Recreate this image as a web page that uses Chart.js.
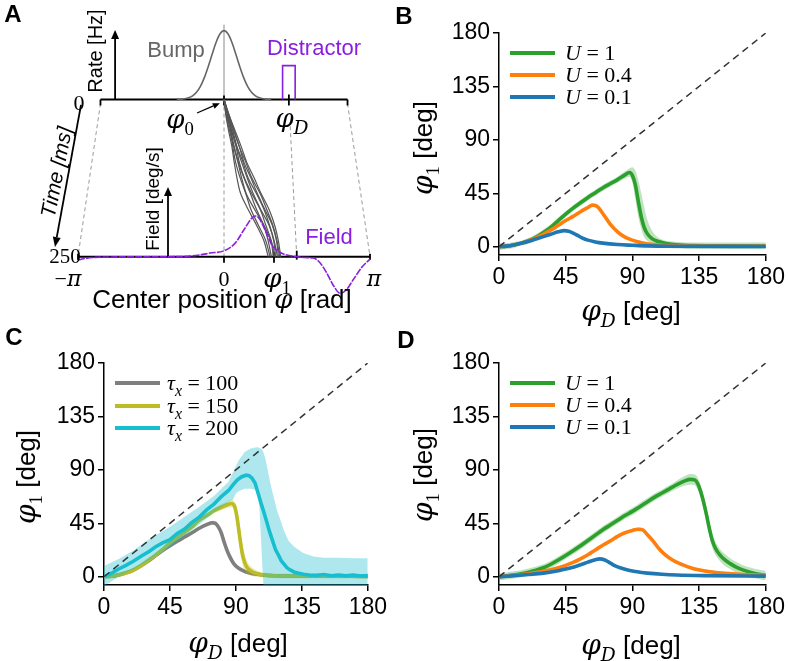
<!DOCTYPE html>
<html><head><meta charset="utf-8">
<script src="https://cdn.jsdelivr.net/npm/chart.js@4.4.1/dist/chart.umd.min.js"></script>
<style>
html,body{margin:0;padding:0;background:#fff;}
#fig{position:relative;width:788px;height:661px;overflow:hidden;background:#fff;font-family:'Liberation Sans',Arial,sans-serif;color:#000;}
canvas{position:absolute;}
.lab{position:absolute;white-space:nowrap;transform:translate(-50%,-50%);line-height:1;}
.rot{transform:translate(-50%,-50%) rotate(-90deg);}
.m{font-family:'DejaVu Serif','Liberation Serif',serif;font-style:italic;}
.r{font-family:'Liberation Serif',serif;}
.sub{font-size:0.72em;position:relative;top:0.38em;}
.bold{font-weight:bold;font-size:24px;}
.leg{position:absolute;height:4px;width:45px;}
.legt{position:absolute;white-space:nowrap;transform:translateY(-50%);font-family:'Liberation Serif',serif;font-size:22px;line-height:1;}
</style></head><body>
<div id="fig">
<canvas id="cA" width="390" height="320" style="left:0;top:0"></canvas>
<canvas id="cB" width="398" height="330" style="left:390px;top:0"></canvas>
<canvas id="cC" width="390" height="331" style="left:0;top:330px"></canvas>
<canvas id="cD" width="398" height="331" style="left:390px;top:330px"></canvas>

<!-- panel letters -->
<div class="lab bold" style="left:13px;top:14px">A</div>
<div class="lab bold" style="left:404px;top:16px">B</div>
<div class="lab bold" style="left:14px;top:337px">C</div>
<div class="lab bold" style="left:406px;top:340px">D</div>

<!-- panel A labels -->
<div class="lab rot" style="left:95px;top:51px;font-size:20px">Rate [Hz]</div>
<div class="lab" style="left:176px;top:50px;font-size:22px;color:#666">Bump</div>
<div class="lab" style="left:314px;top:48px;font-size:22px;color:#8a1ee0">Distractor</div>
<div class="lab r" style="left:79px;top:103px;font-size:22px">0</div>
<div class="lab" style="left:180px;top:119px;font-size:26px"><span class="m">φ</span><span class="sub r">0</span></div>
<div class="lab" style="left:292px;top:118px;font-size:26px"><span class="m">φ</span><span class="sub m">D</span></div>
<div class="lab" style="left:56px;top:172px;font-size:21px;font-style:italic;transform:translate(-50%,-50%) rotate(-79deg)">Time [ms]</div>
<div class="lab rot" style="left:152px;top:199px;font-size:19px">Field [deg/s]</div>
<div class="lab" style="left:329px;top:237px;font-size:22px;color:#8a1ee0">Field</div>
<div class="lab r" style="left:65px;top:256px;font-size:21px">250</div>
<div class="lab" style="left:68px;top:279px;font-size:22px"><span class="r">−</span><span class="m">π</span></div>
<div class="lab r" style="left:224px;top:279px;font-size:22px">0</div>
<div class="lab" style="left:277px;top:278px;font-size:26px"><span class="m">φ</span><span class="sub r">1</span></div>
<div class="lab m" style="left:374px;top:279px;font-size:22px">π</div>
<div class="lab" style="left:222px;top:299px;font-size:26px">Center position <span class="m">φ</span> [rad]</div>

<!-- axis titles -->
<div class="lab rot" style="left:423px;top:148px;font-size:26px"><span class="m" style="font-size:28px">φ</span><span class="sub r">1</span> [deg]</div>
<div class="lab" style="left:631px;top:311px;font-size:26px"><span class="m" style="font-size:28px">φ</span><span class="sub m">D</span> [deg]</div>
<div class="lab rot" style="left:26px;top:477px;font-size:26px"><span class="m" style="font-size:28px">φ</span><span class="sub r">1</span> [deg]</div>
<div class="lab" style="left:238px;top:643px;font-size:26px"><span class="m" style="font-size:28px">φ</span><span class="sub m">D</span> [deg]</div>
<div class="lab rot" style="left:423px;top:475px;font-size:26px"><span class="m" style="font-size:28px">φ</span><span class="sub r">1</span> [deg]</div>
<div class="lab" style="left:631px;top:645px;font-size:26px"><span class="m" style="font-size:28px">φ</span><span class="sub m">D</span> [deg]</div>

<!-- legends -->
<div class="leg" style="left:510px;top:51px;background:#2ca02c"></div>
<div class="legt" style="left:565px;top:53px"><i>U</i> = 1</div>
<div class="leg" style="left:510px;top:73px;background:#ff7f0e"></div>
<div class="legt" style="left:565px;top:75px"><i>U</i> = 0.4</div>
<div class="leg" style="left:510px;top:95px;background:#1f77b4"></div>
<div class="legt" style="left:565px;top:97px"><i>U</i> = 0.1</div>

<div class="leg" style="left:115px;top:381px;background:#7f7f7f"></div>
<div class="legt" style="left:167px;top:383px"><i>τ</i><span class="sub"><i>x</i></span> = 100</div>
<div class="leg" style="left:115px;top:404px;background:#bcbd22"></div>
<div class="legt" style="left:167px;top:406px"><i>τ</i><span class="sub"><i>x</i></span> = 150</div>
<div class="leg" style="left:115px;top:426px;background:#17becf"></div>
<div class="legt" style="left:167px;top:428px"><i>τ</i><span class="sub"><i>x</i></span> = 200</div>

<div class="leg" style="left:510px;top:381px;background:#2ca02c"></div>
<div class="legt" style="left:565px;top:383px"><i>U</i> = 1</div>
<div class="leg" style="left:510px;top:403px;background:#ff7f0e"></div>
<div class="legt" style="left:565px;top:405px"><i>U</i> = 0.4</div>
<div class="leg" style="left:510px;top:425px;background:#1f77b4"></div>
<div class="legt" style="left:565px;top:427px"><i>U</i> = 0.1</div>
</div>

<script>
// ---------------- data ----------------
const TICKS_DEG = [0, 45, 90, 135, 180];

// Panel B
const B_U1_x  = [0,5,10,15,20,25,30,35,40,45,50,55,60,65,70,75,80,85,88,90,92,94,96,98,100,103,106,110,115,122,130,140,160,180];
const B_U1_y  = [0,0.5,1.5,3,5,8,12,16.5,22,27.5,32.5,37,41.5,45.5,49.5,53,56.5,60.5,62.5,60,52,38,25,16,11,7,5,3.5,2.2,1.4,1,0.7,0.5,0.5];
const B_U1_hi = [3,3,4,5,7.5,10.5,14.5,19,24.5,30,35,39.5,44,48,52,55.5,59,63.5,66,67,64,56,45,33,23,14,9,6,4.5,4,3.5,3.5,3.5,3.5];
const B_U1_lo = [-3,-2,-1,1,2.5,5.5,9.5,14,19.5,25,30,34.5,39,43,47,50.5,54,57.5,59,54,40,25,15,8,5,3,1.5,0.5,-1,-1.5,-2,-2,-2,-2];

const B_U04_x = [0,5,10,15,20,25,30,35,40,45,50,55,60,63,65,67,70,75,80,85,90,95,100,110,120,140,180];
const B_U04_y = [0,0.5,1.5,3,5,7.5,10.5,14,18,22,25.5,29.5,33,35,34.8,33,28,19,12.5,8,5.5,3.8,2.5,1.2,0.7,0.5,0.4];
const B_U04_e = [1,1,1,1,1,1,1,1.2,1.2,1.2,1.2,1.2,1.3,1.3,1.3,1.3,1.3,1.3,1.2,1.2,1.1,1,1,1,1,1,1];

const B_U01_x = [0,5,10,15,20,25,30,35,40,44,47,50,53,56,60,65,70,80,90,100,120,180];
const B_U01_y = [0,0.5,1.5,2.8,4.5,6.5,8.5,10.5,12.5,13.5,13,11.5,9.5,7.5,5.5,4,3,1.8,1.2,0.7,0.4,0.2];
const B_U01_e = [0.8,0.8,0.8,0.9,0.9,1,1,1,1,1,1,1,1,1,1,0.9,0.9,0.8,0.8,0.8,0.8,0.8];

// Panel C
const C_T100_x = [0,5,10,15,20,25,30,35,40,45,50,55,60,65,70,74,76,78,80,82,84,86,88,90,93,97,100,105,110,120,140,180];
const C_T100_y = [0,0.5,1.5,3.2,5.6,9,13,17.5,22,26,29.8,33.4,37,40.8,43.8,45.4,45,42,37,29,22,16.5,12,9,6.3,4,3,2,1.2,0.7,0.4,0.3];
const C_T100_e = [1.5,1.5,1.5,1.5,1.5,1.5,1.5,1.5,1.5,1.5,1.5,1.5,1.5,1.5,1.6,1.8,2,2.5,3,3.5,3.5,3,2.5,2,1.8,1.5,1.5,1.5,1.5,1.5,1.5,1.5];

const C_T150_x = [0,5,10,15,20,25,30,35,40,45,50,55,60,65,70,75,80,85,87,89,90,91,92,93,94,95,97,100,105,110,120,180];
const C_T150_y = [0,0.5,1.5,3.2,5.6,9.2,13.5,18,23,28.5,33,37.5,42,47.7,51.5,55.5,58.5,61,61.7,59.5,55,48,39,30,22,16,9,5,2.3,1.3,0.6,0.3];
const C_T150_e = [2,2,2,2,2,2,2,2,2,2,2,2,2,2,2,2.2,2.5,3,3.5,4,6,8,10,10,9,8,6,4,2.5,2,2,2];

const C_T200_x = [0,3,6,10,15,20,25,31,35,40,45,50,55,60,65,70,75,80,85,88,91,94,97,99,101,103,105,107,109,111,113,115,117,119,121,123,125,127,130,133,136,140,145,150,155,160,165,170,175,180];
const C_T200_y = [0,1.5,3.5,6.5,9.5,13,17,21.5,25,28.5,31.2,36.4,40.1,45.8,50.2,56.3,61.2,67.4,72.6,77.3,81.6,84.2,85.5,85.1,83,79.2,71,62.4,54.6,46.3,37.7,30.4,22.8,18.3,13.2,10.4,7.3,5.7,3.8,2.9,2.1,1.4,1.2,1.8,0.8,1.4,0.7,1.3,0.6,0.9];
const C_T200_bx = [0,5,10,20,30,45,65,75,85,88,90,92,96,100,104,105,106,107,108,109,110,112,114,116,118,120,123,126,130,136,143,150,160,170,180];
const C_T200_hi = [9,12,15,22,31,42,59,68,80,88,93,98,105,108,109,109,108.5,108,107,104,100,88,76,66,56,49,38,30,25,20,17,16,16,15.5,15.5];
const C_T200_lo = [-8,-4,0,6,13,25,44,54,63,65,70,72,74,74,73,72,60,35,10,-12,-12,-12,-12,-12,-12,-12,-12,-12,-12,-12,-12,-12,-12,-12,-12];

// Panel D
const D_U1_x  = [0,5,10,15,20,25,30,35,40,45,50,55,60,65,70,75,80,85,90,95,100,105,110,115,120,125,129,132,134,136,138,140,142,144,146,149,152,156,160,165,170,175,180];
const D_U1_y  = [0,0.6,1.5,2.5,3.8,5.5,7.5,10.5,14,17.8,21.8,26,30.5,35,39.5,43.5,47.5,51.5,55,59,63,67,70.5,74,77.5,80.5,82,81.5,78.5,72,63,52,40,30,24,18.3,14.5,11,8,5.5,3.5,2,1];
const D_U1_e  = [3,3,3,3,3,3,3,3,3,3,3,3,3,3,3,3,3,3,3,3,3,3,3,3,3.5,4,4.5,4.5,5,5.5,6,6,6,6,5.5,5,5,4.5,4.5,4,4,4,4];

const D_U04_x = [0,10,20,30,40,45,50,55,60,65,70,75,80,85,90,94,97,100,104,108,112,117,122,127,132,138,145,155,165,180];
const D_U04_y = [0,1,2.5,4.5,7.5,9.5,12,15,18.5,22.5,26.5,30,34,37,39,40,39.5,35.5,30,23.5,18.5,14,11,8.5,6.5,5,3.8,2.6,1.8,1.2];
const D_U04_e = [1,1,1,1,1,1.1,1.2,1.2,1.3,1.3,1.3,1.3,1.3,1.3,1.4,1.4,1.4,1.4,1.4,1.4,1.3,1.3,1.3,1.2,1.2,1.2,1.1,1,1,1];

const D_U01_x = [0,10,20,30,40,45,50,55,60,65,68,71,74,77,80,85,90,95,100,110,120,140,180];
const D_U01_y = [0,0.8,1.8,3,5,6.5,8,10,12.3,14.3,15,14.3,12.3,10,8.3,6.3,4.8,3.8,3,2,1.4,0.9,0.5];
const D_U01_e = [0.8,0.8,0.8,0.9,0.9,1,1,1,1,1,1,1,1,1,1,1,0.9,0.9,0.9,0.8,0.8,0.8,0.8];

// Panel A (schematic): angles in rad, rate in Hz, time in ms, field in deg/s
const A_bump_phi  = [-1.2,-1.1,-1.0,-0.9,-0.8,-0.7,-0.6,-0.5,-0.4,-0.3,-0.2,-0.1,0,0.1,0.2,0.3,0.4,0.5,0.6,0.7,0.8,0.9,1.0,1.1,1.2];
const A_bump_rate = [0,0.15,0.4,0.97,2.1,4.2,7.6,12.7,19.2,26.4,33.3,38.2,40,38.2,33.3,26.4,19.2,12.7,7.6,4.2,2.1,0.97,0.4,0.15,0];
const A_dist_phi  = [1.49,1.49,1.81,1.81];
const A_dist_rate = [0,19.7,19.7,0];
const A_field_phi = [-3.1416,-2.99,-2.78,-2.45,-2.0,-1.5,-1.0,-0.73,-0.52,-0.30,0,0.24,0.45,0.60,0.67,0.75,0.92,1.03,1.13,1.31,1.48,1.74,1.92,2.07,2.21,2.35,2.50,2.63,2.78,2.97,3.1416];
const A_field_val = [-2.4,-1.3,-0.5,-0.2,0,0,0.1,0.5,1.3,2.7,4.4,10,21,28.5,30,28.5,17,8.6,4.9,1.6,0.5,-0.6,-1,-4.6,-12,-21,-27,-24.5,-17,-7.6,-1.7];
const A_traj_t = [0,25,50,75,100,125,150,175,200,225,250];
const A_traj_1  = [0,0.04,0.10,0.17,0.22,0.28,0.36,0.52,0.70,0.86,0.95];
const A_traj_2  = [0,0.06,0.14,0.19,0.25,0.35,0.47,0.58,0.74,0.90,0.99];
const A_traj_3  = [0,0.05,0.12,0.21,0.30,0.38,0.48,0.66,0.85,0.95,1.02];
const A_traj_4  = [0,0.08,0.15,0.22,0.31,0.43,0.57,0.70,0.86,1.01,1.06];
const A_traj_5  = [0,0.07,0.17,0.26,0.33,0.44,0.60,0.78,0.90,1.02,1.09];
const A_traj_6  = [0,0.09,0.16,0.27,0.38,0.50,0.63,0.79,0.97,1.07,1.11];
const A_traj_7  = [0,0.08,0.19,0.28,0.41,0.52,0.70,0.86,0.98,1.08,1.15];
const A_traj_8  = [0,0.10,0.21,0.33,0.43,0.58,0.72,0.88,1.04,1.13,1.17];
const A_traj_9  = [0,0.11,0.22,0.33,0.47,0.60,0.78,0.92,1.05,1.14,1.20];
const A_traj_10 = [0,0.11,0.24,0.37,0.49,0.65,0.80,0.97,1.09,1.17,1.22];
const A_trajs = [A_traj_1,A_traj_2,A_traj_3,A_traj_4,A_traj_5,A_traj_6,A_traj_7,A_traj_8,A_traj_9,A_traj_10];
const PHI_D = 1.65, PHI_D_BOTTOM = 1.565, PHI_1 = 1.076;
const K0 = 0.846; // perspective shrink of the time-0 axis

// ---------------- helpers ----------------
const PURPLE = '#8a1ee0';
function pts(xs, ys){ return xs.map((x,i)=>({x:x, y:ys[i]})); }
function rgba(hex, a){ const n=parseInt(hex.slice(1),16); return `rgba(${n>>16&255},${n>>8&255},${n&255},${a})`; }
function lineDS(xs, ys, color, order, extra){
  return Object.assign({data:pts(xs,ys), borderColor:color, borderWidth:3.6, pointRadius:0, fill:false,
    cubicInterpolationMode:'monotone', order:order}, extra||{});
}
function bandDS(xs, lo, hi, color, alpha, order, mono){
  const base = {borderWidth:0, pointRadius:0, order:order, borderColor:'rgba(0,0,0,0)'};
  if (mono !== false) base.cubicInterpolationMode = 'monotone';
  return [Object.assign({data:pts(xs,lo), fill:false}, base),
          Object.assign({data:pts(xs,hi), fill:'-1', backgroundColor:rgba(color,alpha)}, base)];
}
function errBand(xs, ys, es, color, alpha, order){
  return bandDS(xs, ys.map((y,i)=>y-es[i]), ys.map((y,i)=>y+es[i]), color, alpha, order);
}
function diag(){ return {data:[{x:0,y:0},{x:180,y:180}], borderColor:'#333', borderWidth:1.5, borderDash:[7,5], pointRadius:0, fill:false, order:0}; }

function panelOpts(W, H, R, T){
  const tickFont = {family:"'Liberation Sans', Arial, sans-serif", size:23};
  const mk = (isX)=>({
    type:'linear', min: isX?0:-7, max:180,
    afterBuildTicks: s=>{ s.ticks = TICKS_DEG.map(v=>({value:v})); },
    ticks:{font:tickFont, color:'#000', padding:3, maxRotation:0, autoSkip:false},
    grid:{display:true, drawOnChartArea:false, drawTicks:true, tickLength:6, color:'#000', lineWidth:1.5},
    border:{display:true, color:'#000', width:1.5},
    afterFit: isX ? (s=>{ s.height=H; }) : (s=>{ s.width=W; })
  });
  return {responsive:false, animation:false, events:[], devicePixelRatio:1,
    layout:{padding:{left:0, right:R, top:T, bottom:0}},
    plugins:{legend:{display:false}, tooltip:{enabled:false}},
    scales:{x:mk(true), y:mk(false)}};
}

// ---------------- Panel B ----------------
new Chart(document.getElementById('cB'), {
  type:'line',
  data:{datasets:[
    ...bandDS(B_U1_x, B_U1_lo, B_U1_hi, '#2ca02c', 0.3, 9),
    lineDS(B_U1_x, B_U1_y, '#2ca02c', 8),
    ...errBand(B_U04_x, B_U04_y, B_U04_e, '#ff7f0e', 0.3, 7),
    lineDS(B_U04_x, B_U04_y, '#ff7f0e', 6),
    ...errBand(B_U01_x, B_U01_y, B_U01_e, '#1f77b4', 0.3, 5),
    lineDS(B_U01_x, B_U01_y, '#1f77b4', 4),
    diag()
  ]},
  options: panelOpts(109, 75, 22, 33)
});

// ---------------- Panel C ----------------
new Chart(document.getElementById('cC'), {
  type:'line',
  data:{datasets:[
    ...errBand(C_T100_x, C_T100_y, C_T100_e, '#7f7f7f', 0.3, 9),
    lineDS(C_T100_x, C_T100_y, '#7f7f7f', 8),
    ...errBand(C_T150_x, C_T150_y, C_T150_e, '#bcbd22', 0.3, 7),
    lineDS(C_T150_x, C_T150_y, '#bcbd22', 6),
    ...bandDS(C_T200_bx, C_T200_lo, C_T200_hi, '#17becf', 0.35, 5, false),
    lineDS(C_T200_x, C_T200_y, '#17becf', 4, {cubicInterpolationMode:'default', tension:0}),
    diag()
  ]},
  options: panelOpts(104, 76, 19, 33)
});

// ---------------- Panel D ----------------
new Chart(document.getElementById('cD'), {
  type:'line',
  data:{datasets:[
    ...errBand(D_U1_x, D_U1_y, D_U1_e, '#2ca02c', 0.3, 9),
    lineDS(D_U1_x, D_U1_y, '#2ca02c', 8),
    ...errBand(D_U04_x, D_U04_y, D_U04_e, '#ff7f0e', 0.3, 7),
    lineDS(D_U04_x, D_U04_y, '#ff7f0e', 6),
    ...errBand(D_U01_x, D_U01_y, D_U01_e, '#1f77b4', 0.3, 5),
    lineDS(D_U01_x, D_U01_y, '#1f77b4', 4),
    diag()
  ]},
  options: panelOpts(109, 76, 22, 33)
});

// ---------------- Panel A ----------------
function arrow(ctx, x1, y1, x2, y2, hl, hw){
  ctx.beginPath(); ctx.moveTo(x1,y1);
  const a = Math.atan2(y2-y1, x2-x1);
  const bx = x2 - hl*Math.cos(a), by = y2 - hl*Math.sin(a);
  ctx.lineTo(bx, by); ctx.stroke();
  ctx.beginPath(); ctx.moveTo(x2,y2);
  ctx.lineTo(bx + hw*Math.sin(a), by - hw*Math.cos(a));
  ctx.lineTo(bx - hw*Math.sin(a), by + hw*Math.cos(a));
  ctx.closePath(); ctx.fill();
}
const schematic = {
  id:'schematic',
  beforeDatasetsDraw(chart){
    const ctx = chart.ctx, s = chart.scales;
    const px = v=>s.x.getPixelForValue(v), pt = v=>s.yT.getPixelForValue(v);
    const pr = v=>s.yR.getPixelForValue(v), pf = v=>s.yF.getPixelForValue(v);
    const P = Math.PI;
    const y0 = pt(0), y1 = pt(250);
    ctx.save();
    ctx.strokeStyle = '#9a9a9a'; ctx.lineWidth = 1; ctx.setLineDash([4,3]);
    const seg = (a,b,c,d)=>{ctx.beginPath();ctx.moveTo(a,b);ctx.lineTo(c,d);ctx.stroke();};
    seg(px(-P*K0), y0+4, px(-P), y1);
    seg(px(P*K0), y0+4, px(P), y1);
    seg(px(0), y0, px(0), y1);
    const f = 0.17, xa = PHI_D*K0, xb = PHI_D_BOTTOM;
    seg(px(xa + (xb-xa)*f), y0 + (y1-y0)*f, px(xb), y1);
    ctx.setLineDash([]);
    ctx.strokeStyle = '#8a8a8a'; ctx.lineWidth = 1;
    seg(px(0), pr(0), px(0), pr(43.5));
    ctx.strokeStyle = '#000'; ctx.fillStyle = '#000'; ctx.lineWidth = 2;
    seg(px(-P*K0), y0, px(P*K0), y0);
    seg(px(-P), y1, px(P), y1);
    ctx.lineWidth = 1.8;
    seg(px(-P*K0), y0, px(-P*K0), y0+6);
    seg(px(P*K0), y0, px(P*K0), y0+6);
    seg(px(0), y0-4, px(0), y0+6);
    seg(px(PHI_D*K0), y0-5, px(PHI_D*K0), y0+6);
    seg(px(-P), y1-3, px(-P), y1+3);
    seg(px(P), y1-3, px(P), y1+3);
    seg(px(0), y1, px(0), y1+6);
    seg(px(PHI_1), y1-5, px(PHI_1), y1+6);
    seg(px(PHI_D_BOTTOM), y1-6, px(PHI_D_BOTTOM), y1+3);
    ctx.lineWidth = 1.8;
    arrow(ctx, px(-2.77*K0), pr(0), px(-2.77*K0), pr(40.4), 9, 4);
    arrow(ctx, px(-1.205), pf(0), px(-1.205), pf(51.4), 9, 4);
    arrow(ctx, px(-3.077), pt(8.7), px(-3.637), pt(234.6), 10, 4);
    ctx.lineWidth = 1.2;
    arrow(ctx, px(-0.58), pt(21.5), px(-0.09), pt(5.8), 7, 3);
    ctx.restore();
  }
};
const aSets = [];
A_trajs.forEach(tr=>aSets.push({data:pts(tr, A_traj_t), yAxisID:'yT', borderColor:'#555', borderWidth:1.2,
  pointRadius:0, fill:false, tension:0.35, order:5}));
aSets.push({data:pts(A_bump_phi.map(p=>p*K0), A_bump_rate), yAxisID:'yR', borderColor:'#666', borderWidth:1.6,
  pointRadius:0, fill:false, cubicInterpolationMode:'monotone', order:2});
aSets.push({data:pts(A_dist_phi.map(p=>p*K0), A_dist_rate), yAxisID:'yR', borderColor:PURPLE, borderWidth:1.6,
  pointRadius:0, fill:false, tension:0, order:2});
aSets.push({data:pts(A_field_phi, A_field_val), yAxisID:'yF', borderColor:PURPLE, borderWidth:1.6, borderDash:[7,1.2],
  pointRadius:0, fill:false, cubicInterpolationMode:'monotone', order:0});
new Chart(document.getElementById('cA'), {
  type:'line',
  data:{datasets:aSets},
  options:{responsive:false, animation:false, events:[], devicePixelRatio:1,
    layout:{padding:{left:78, right:20, top:20, bottom:20}},
    plugins:{legend:{display:false}, tooltip:{enabled:false}},
    scales:{
      x:{type:'linear', min:-Math.PI, max:Math.PI, display:false},
      yT:{type:'linear', reverse:true, min:-126.4, max:318.9, display:false},
      yR:{type:'linear', min:-116.6, max:46.2, display:false},
      yF:{type:'linear', min:-31.9, max:174.5, display:false}
    }},
  plugins:[schematic]
});
</script>
</body></html>
